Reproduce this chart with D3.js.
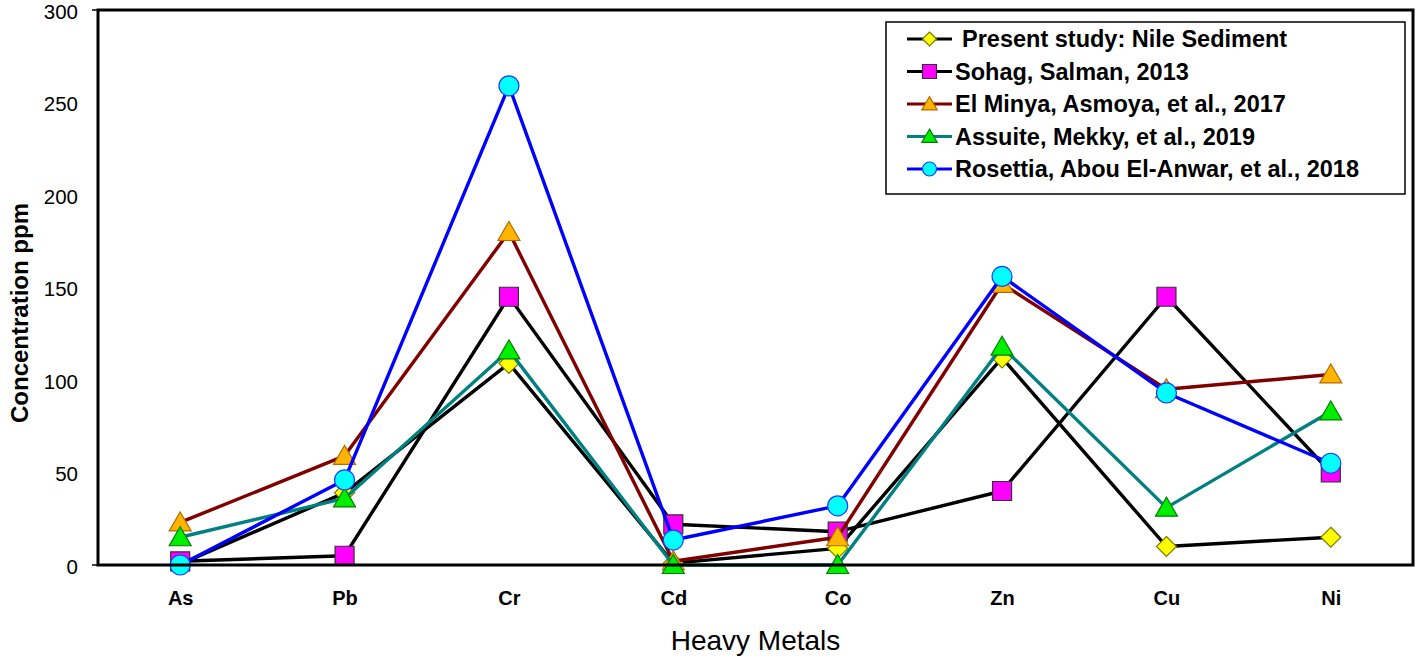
<!DOCTYPE html>
<html>
<head>
<meta charset="utf-8">
<script src="https://cdn.jsdelivr.net/npm/d3@7"></script>
<style>
  html, body { margin: 0; padding: 0; background: #fff; }
  svg { display: block; }
  text { font-family: "Liberation Sans", Arial, sans-serif; }
</style>
</head>
<body>
<svg id="chart" width="1418" height="661"></svg>
<script>
// ---- data ----
const categories = ["As", "Pb", "Cr", "Cd", "Co", "Zn", "Cu", "Ni"];
const presentStudy = [0.5, 39, 109, 1, 9, 112, 10, 15];
const sohag        = [2, 5, 145, 22, 18, 40, 145, 50];
const elMinya      = [23, 59, 180, 2, 15, 152, 95, 103];
const assuite      = [15, 36, 116, 0, 0, 118, 31, 83];
const rosettia     = [0, 46, 259, 13.5, 32, 156, 93, 55];
const seriesNames = [
  "Present study: Nile Sediment",
  "Sohag, Salman, 2013",
  "El Minya, Asmoya, et al., 2017",
  "Assuite, Mekky, et al., 2019",
  "Rosettia, Abou El-Anwar, et al., 2018"
];
const yTicks = [0, 50, 100, 150, 200, 250, 300];
const xTitle = "Heavy Metals";
const yTitle = "Concentration ppm";

const styles = [
  { line: "#000000", fill: "#ffff00", stroke: "#7a7a00", shape: "diamond" },
  { line: "#000000", fill: "#ff00ff", stroke: "#333333", shape: "square" },
  { line: "#800000", fill: "#ffb400", stroke: "#b36b00", shape: "triangle" },
  { line: "#008080", fill: "#00ee00", stroke: "#008000", shape: "triangle" },
  { line: "#0000ff", fill: "#00ffff", stroke: "#1e3cff", shape: "circle" }
];
const allSeries = [presentStudy, sohag, elMinya, assuite, rosettia];

// ---- layout ----
const svg = d3.select("#chart");
const L = 98, R = 1413, T = 10, B = 565;

const x = d3.scalePoint().domain(categories).range([L, R]).padding(0.5);
const y = d3.scaleLinear().domain([0, 300]).range([B, T]);

function shapePath(shape, s) {
  switch (shape) {
    case "diamond": return `M0,${-s}L${s},0L0,${s}L${-s},0Z`;
    case "square": return `M${-s},${-s}H${s}V${s}H${-s}Z`;
    case "triangle": return `M0,${-s * 1.05}L${s * 1.1},${s * 0.85}L${-s * 1.1},${s * 0.85}Z`;
    default: return null;
  }
}
function drawMarker(g, st, cx, cy, s) {
  if (st.shape === "circle") {
    g.append("circle").attr("cx", cx).attr("cy", cy).attr("r", s)
      .attr("fill", st.fill).attr("stroke", st.stroke).attr("stroke-width", 1.2);
  } else {
    g.append("path").attr("d", shapePath(st.shape, s))
      .attr("transform", `translate(${cx},${cy})`)
      .attr("fill", st.fill).attr("stroke", st.stroke).attr("stroke-width", 1.2);
  }
}

// ---- axes ----
const yAxis = svg.append("g").attr("transform", `translate(${L},0)`)
  .call(d3.axisLeft(y).tickValues(yTicks).tickSize(0).tickPadding(20));
yAxis.select(".domain").remove();
yAxis.selectAll("text").attr("font-size", 20.5).attr("fill", "#000").attr("dy", "0.4em")
  .style("font-family", "'Liberation Sans', Arial, sans-serif");

const xAxis = svg.append("g").attr("transform", `translate(0,${B})`)
  .call(d3.axisBottom(x).tickSize(0));
xAxis.select(".domain").remove();
xAxis.selectAll("text").attr("y", 40).attr("dy", 0).attr("font-size", 20)
  .attr("font-weight", "bold").attr("fill", "#000")
  .style("font-family", "'Liberation Sans', Arial, sans-serif");

// ---- series ----
const line = d3.line().x((d, i) => x(categories[i])).y(d => y(d));
allSeries.forEach((vals, si) => {
  const st = styles[si];
  const g = svg.append("g");
  g.append("path").datum(vals).attr("d", line)
    .attr("fill", "none").attr("stroke", st.line).attr("stroke-width", 3.4)
    .attr("stroke-linejoin", "round");
  vals.forEach((v, i) => {
    const s = st.shape === "square" ? 9.5 : 10;
    drawMarker(g, st, x(categories[i]), y(v), s);
  });
});

// ---- frame ----
svg.append("rect").attr("x", L).attr("y", T).attr("width", R - L).attr("height", B - T)
  .attr("fill", "none").attr("stroke", "#000").attr("stroke-width", 3);
svg.append("line").attr("x1", L - 6).attr("x2", L).attr("y1", T).attr("y2", T).attr("stroke", "#000").attr("stroke-width", 1.5);
svg.append("line").attr("x1", L - 6).attr("x2", L).attr("y1", B).attr("y2", B).attr("stroke", "#000").attr("stroke-width", 1.5);

// ---- titles ----
svg.append("text").attr("x", (L + R) / 2).attr("y", 650).attr("text-anchor", "middle")
  .attr("font-size", 28).attr("fill", "#000").text(xTitle);
svg.append("text").attr("transform", `translate(28,313) rotate(-90)`).attr("text-anchor", "middle")
  .attr("font-size", 24).attr("font-weight", "bold").attr("fill", "#000").text(yTitle);

// ---- legend ----
const lg = svg.append("g");
lg.append("rect").attr("x", 886).attr("y", 22).attr("width", 519).attr("height", 172)
  .attr("fill", "#fff").attr("stroke", "#000").attr("stroke-width", 1.5);
seriesNames.forEach((name, i) => {
  const cy = 39 + i * 32.5;
  const st = styles[i];
  lg.append("line").attr("x1", 907).attr("x2", 952).attr("y1", cy).attr("y2", cy)
    .attr("stroke", st.line).attr("stroke-width", 3);
  drawMarker(lg, st, 929.5, cy, 7);
  lg.append("text").attr("x", i === 0 ? 962 : 955).attr("y", cy + 8)
    .attr("font-size", 23.5).attr("font-weight", "bold").attr("fill", "#000").text(name);
});
</script>
</body>
</html>
